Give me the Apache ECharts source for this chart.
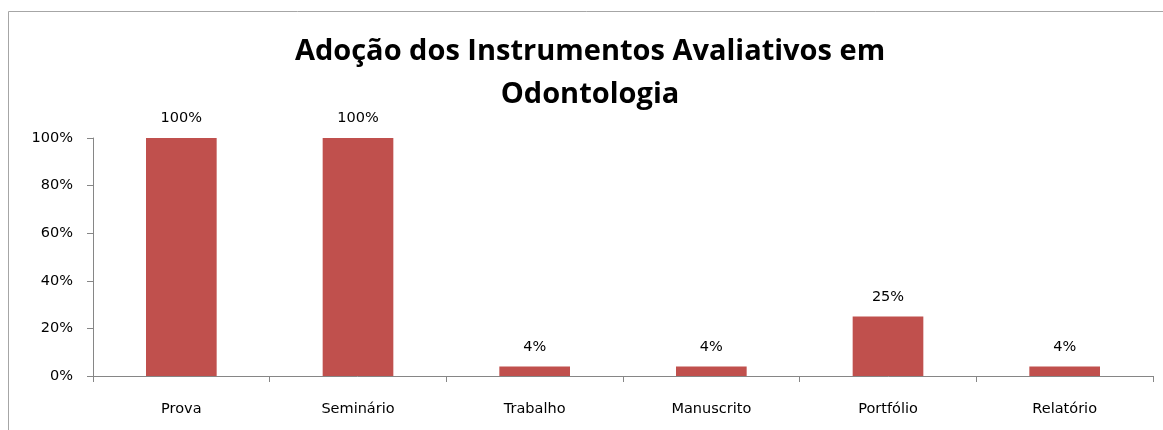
<!DOCTYPE html>
<html lang="pt">
<head>
    <meta charset="utf-8">
    <script src="https://cdn.jsdelivr.net/npm/echarts@6/dist/echarts.min.js"></script>
    <title>Adoção dos Instrumentos Avaliativos</title>
</head>
<body>
<style>
    html, body, #main {
        width: 100%;
        height: 100%;
        margin: 0;
        background: #fff;
    }
</style>
<div id='main'></div>
<script>
    var categories = ['Prova', 'Seminário', 'Trabalho', 'Manuscrito', 'Portfólio', 'Relatório'];
    var values = [100, 100, 4, 4, 25, 4];
    var yTicks = [0, 20, 40, 60, 80, 100];

    var font = '"DejaVu Sans", sans-serif';
    var chart = echarts.init(document.getElementById('main'));
    var option = {
        animation: false,
        title: {
            text: 'Adoção dos Instrumentos Avaliativos em\nOdontologia',
            left: 590,
            top: 30,
            padding: 0,
            textAlign: 'center',
            textStyle: {
                fontFamily: '"Open Sans", sans-serif',
                fontWeight: 'bold',
                fontSize: 29,
                lineHeight: 43,
                color: '#000'
            }
        },
        graphic: [{
            type: 'rect',
            shape: {x: 8.5, y: 11.5, width: 1300, height: 600},
            style: {fill: 'none', stroke: '#a6a6a6', lineWidth: 1},
            silent: true
        }],
        grid: {left: 93, right: 10, top: 138, bottom: 54},
        xAxis: {
            type: 'category',
            data: categories,
            axisLine: {lineStyle: {color: '#868686'}},
            axisTick: {show: true, length: 6, lineStyle: {color: '#868686'}},
            axisLabel: {fontFamily: font, fontSize: 14.5, color: '#000', margin: 26}
        },
        yAxis: {
            type: 'value',
            min: yTicks[0],
            max: yTicks[yTicks.length - 1],
            interval: 20,
            axisLine: {show: true, lineStyle: {color: '#868686'}},
            axisTick: {show: true, length: 6, lineStyle: {color: '#868686'}},
            splitLine: {show: false},
            axisLabel: {fontFamily: font, fontSize: 14.5, color: '#000', margin: 20, formatter: '{value}%'}
        },
        series: [{
            type: 'bar',
            data: values,
            barWidth: '40%',
            itemStyle: {color: '#C0504D'},
            label: {
                show: true,
                position: 'top',
                distance: 12,
                fontFamily: font,
                fontSize: 14.5,
                color: '#000',
                formatter: '{c}%'
            }
        }]
    };
    chart.setOption(option);
    window.onresize = chart.resize;
</script>
</body>
</html>
